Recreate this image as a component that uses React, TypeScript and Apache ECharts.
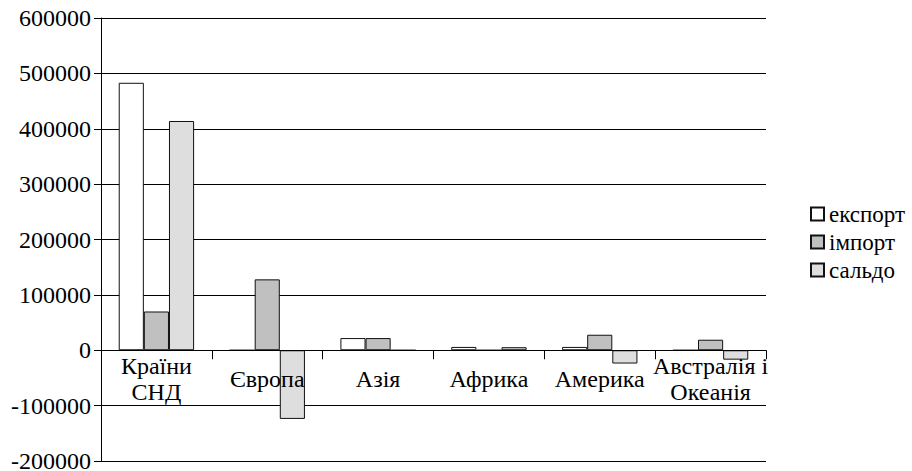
import React, { useEffect, useRef } from "react";
import * as echarts from "echarts";

const categories = ["Країни\nСНД", "Європа", "Азія", "Африка", "Америка", "Австралія і\nОкеанія"];
const seriesNames = ["експорт", "імпорт", "сальдо"];
const exportValues = [483000, 0, 22000, 6000, 6000, 0];
const importValues = [70000, 128000, 22000, 0, 28000, 19000];
const saldoValues = [414000, -124000, 0, 5500, -24000, -17000];
const seriesColors = ["#ffffff", "#c0c0c0", "#dedede"];
const yMin = -200000;
const yMax = 600000;
const yInterval = 100000;

const FONT = "Liberation Serif, Times New Roman, serif";

export default function App() {
  const ref = useRef<HTMLDivElement>(null);
  useEffect(() => {
    if (!ref.current) return;
    const chart = echarts.init(ref.current, undefined, { renderer: "svg" });
    const data = [exportValues, importValues, saldoValues];
    const gridTop = 18;
    const gridBottom = 10;
    const plotH = 471 - gridTop - gridBottom;
    const zeroY = gridTop + plotH * (yMax / (yMax - yMin));
    const xOffset = -(471 - gridBottom - zeroY);
    chart.setOption({
      animation: false,
      backgroundColor: "#ffffff",
      textStyle: { fontFamily: FONT, color: "#000" },
      grid: { left: 101, right: 146, top: gridTop, bottom: gridBottom, containLabel: false, outerBoundsMode: "none" },
      legend: {
        orient: "vertical",
        left: 805,
        top: 197,
        itemWidth: 13,
        itemHeight: 13,
        itemGap: 4,
        icon: "rect",
        data: seriesNames,
        textStyle: { fontFamily: FONT, fontSize: 23, color: "#000", lineHeight: 24 },
      },
      xAxis: {
        type: "category",
        data: categories,
        offset: xOffset,
        z: 5,
        axisLine: { onZero: false, lineStyle: { color: "#000", width: 1 } },
        axisTick: { show: true, length: 9, lineStyle: { color: "#000" } },
        axisLabel: {
          interval: 0,
          fontFamily: FONT,
          fontSize: 24,
          color: "#000",
          verticalAlign: "middle",
          margin: 29,
          lineHeight: 26,
        },
        splitLine: { show: false },
      },
      yAxis: {
        type: "value",
        min: yMin,
        max: yMax,
        interval: yInterval,
        axisLine: { show: true, onZero: false, lineStyle: { color: "#000", width: 1 } },
        axisTick: { show: true, length: 7, lineStyle: { color: "#000" } },
        axisLabel: {
          fontFamily: FONT,
          fontSize: 24,
          lineHeight: 14,
          color: "#000",
          margin: 10,
          formatter: (v: number) => String(v),
        },
        splitLine: { show: true, lineStyle: { color: "#000", width: 1 } },
      },
      series: seriesNames.map((name, i) => ({
        name,
        type: "bar",
        data: data[i],
        barGap: "0%",
        barCategoryGap: "32%",
        itemStyle: { color: seriesColors[i], borderColor: "#111", borderWidth: 1 },
      })),
    });
    return () => chart.dispose();
  }, []);
  return (
    <div
      ref={ref}
      style={{ position: "fixed", left: 0, top: 0, width: 912, height: 471, background: "#fff" }}
    />
  );
}
